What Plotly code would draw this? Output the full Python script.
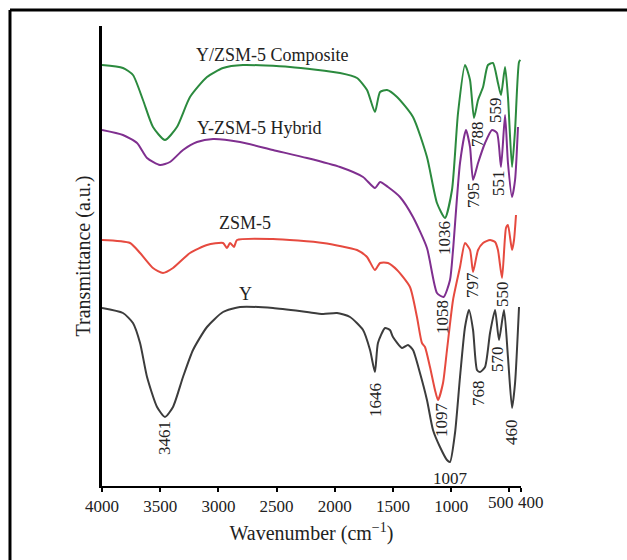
import plotly.graph_objects as go

# Wavenumber (cm-1) and transmittance (a.u.)
wn_comp = [4000, 3820, 3734, 3648, 3562, 3459, 3356, 3244, 3098, 2960, 2789, 2385, 1955, 1809, 1723,
           1655, 1611, 1551, 1465, 1328, 1208, 1122, 1053, 993, 941, 881, 838, 804, 769, 726, 684,
           641, 598, 572, 537, 512, 477, 451, 417, 405]
t_comp = [421, 418, 411, 386, 359, 346, 359, 389, 409, 418, 421, 419, 413, 408, 396,
          374, 394, 396, 389, 369, 329, 283, 268, 296, 373, 421, 406, 368, 386, 399, 421,
          423, 403, 391, 419, 389, 319, 356, 424, 426]

wn_hyb = [4000, 3820, 3699, 3613, 3502, 3416, 3304, 3184, 3046, 2814, 2531, 2239, 1955, 1757, 1655,
          1611, 1543, 1440, 1328, 1208, 1122, 1065, 1010, 984, 924, 873, 838, 812, 769, 709, 649,
          606, 572, 537, 512, 477, 451, 426]
t_hyb = [356, 351, 343, 328, 321, 324, 336, 344, 347, 344, 336, 328, 319, 309, 298,
         304, 299, 289, 269, 238, 193, 189, 206, 236, 323, 356, 339, 306, 323, 343, 356,
         353, 319, 371, 323, 289, 306, 359]

wn_zsm = [4000, 3759, 3673, 3562, 3476, 3390, 3244, 3098, 2960, 2926, 2900, 2866, 2840, 2531, 2101,
          1809, 1723, 1655, 1611, 1543, 1465, 1354, 1294, 1251, 1225, 1182, 1139, 1113, 1070, 1036,
          984, 924, 881, 838, 812, 769, 726, 666, 623, 598, 563, 529, 512, 477, 460, 443]
t_zsm = [246, 243, 233, 218, 213, 218, 233, 241, 243, 238, 243, 239, 246, 247, 243,
         236, 229, 216, 223, 223, 216, 199, 169, 143, 139, 119, 96, 86, 103, 136,
         186, 219, 243, 236, 214, 236, 243, 246, 244, 236, 208, 258, 261, 236, 246, 271]

wn_y = [4000, 3820, 3734, 3673, 3613, 3527, 3459, 3390, 3304, 3218, 3098, 2960, 2814, 2531, 2239,
        2101, 1981, 1869, 1757, 1697, 1655, 1629, 1568, 1526, 1500, 1422, 1371, 1328, 1268, 1208,
        1156, 1096, 1036, 1010, 967, 924, 881, 847, 812, 778, 752, 709, 666, 623, 589, 546, 512,
        477, 451, 417]
t_y = [178, 173, 163, 143, 109, 79, 69, 79, 109, 136, 159, 174, 179, 178, 174,
       172, 173, 169, 156, 136, 114, 143, 158, 156, 149, 138, 141, 136, 113, 86,
       56, 39, 26, 24, 53, 109, 159, 176, 156, 116, 114, 119, 153, 176, 146, 176, 129,
       78, 103, 179]

series_names = ["Y/ZSM-5 Composite", "Y-ZSM-5 Hybrid", "ZSM-5", "Y"]
series_colors = ["#2b8a3e", "#7f2f8f", "#e64a3f", "#3c3c3c"]

x_ticks = [4000, 3500, 3000, 2500, 2000, 1500, 1000]
x_ticklabels = ["4000", "3500", "3000", "2500", "2000", "1500", "1000"]
x_ticks_close = [500, 400]
x_ticklabels_close = ["500", "400"]

FONT = "Liberation Serif, Times New Roman, serif"
TXT = "#222222"

fig = go.Figure()
for name, xs, ys, col in zip(series_names,
                             [wn_comp, wn_hyb, wn_zsm, wn_y],
                             [t_comp, t_hyb, t_zsm, t_y],
                             series_colors):
    fig.add_trace(go.Scatter(x=xs, y=ys, mode="lines", name=name,
                             line=dict(color=col, width=2, shape="spline", smoothing=0.6),
                             showlegend=False))

# Series labels (text, x, y)
series_labels = [("Y/ZSM-5 Composite", 2539, 431), ("Y-ZSM-5 Hybrid", 2651, 358),
                 ("ZSM-5", 2771, 263), ("Y", 2771, 192)]
for txt, x, y in series_labels:
    fig.add_annotation(x=x, y=y, text=txt, showarrow=False,
                       font=dict(family=FONT, size=18, color=TXT))

# Peak labels (rotated)
peak_labels = [("1036", 1062, 248), ("788", 778, 352), ("559", 623, 376), ("795", 812, 291),
               ("551", 598, 303), ("797", 821, 201), ("550", 563, 192), ("1058", 1079, 169),
               ("768", 769, 93), ("570", 606, 127), ("1097", 1087, 66), ("460", 486, 54),
               ("1646", 1654, 86), ("3461", 3467, 48)]
for txt, x, y in peak_labels:
    fig.add_annotation(x=x, y=y, text=txt, showarrow=False, textangle=-90,
                       font=dict(family=FONT, size=17, color=TXT))
fig.add_annotation(x=1010, y=8, text="1007", showarrow=False,
                   font=dict(family=FONT, size=17, color=TXT))

# The last two tick labels sit side by side, slightly pushed apart
for txt, xp in zip(x_ticklabels_close, [0.952, 1.024]):
    fig.add_annotation(xref="paper", yref="paper", x=xp, y=-0.035, text=txt,
                       showarrow=False, xanchor="center", yanchor="middle",
                       font=dict(family=FONT, size=17, color=TXT))

# Outer frame (top and left edges visible)
fig.add_shape(type="line", xref="paper", yref="paper", x0=-0.2196, x1=1.3, y0=1.0348, y1=1.0348,
              line=dict(color="black", width=3))
fig.add_shape(type="line", xref="paper", yref="paper", x0=-0.2196, x1=-0.2196, y0=-0.2, y1=1.0348,
              line=dict(color="black", width=3))

fig.update_layout(
    width=627, height=560,
    margin=dict(l=102, r=106, t=26, b=74),
    paper_bgcolor="white", plot_bgcolor="white",
    font=dict(family=FONT, size=17, color=TXT),
    xaxis=dict(range=[4000, 400], tickvals=x_ticks, ticktext=x_ticklabels, tickangle=0,
               showgrid=False, zeroline=False, showline=True, linecolor="black", linewidth=2,
               ticks="outside", ticklen=4, tickcolor="black", tickwidth=1.5,
               minor=dict(tickvals=x_ticks_close, ticks="outside", ticklen=4,
                          tickcolor="black", tickwidth=1.5, showgrid=False),
               tickfont=dict(family=FONT, size=17, color=TXT),
               title=dict(text="Wavenumber (cm<sup>−1</sup>)", standoff=11,
                          font=dict(family=FONT, size=20, color=TXT))),
    yaxis=dict(range=[0, 460], showgrid=False, zeroline=False, showline=True, linecolor="black",
               linewidth=3, showticklabels=False, ticks="",
               title=dict(text="Transmittance (a.u.)", standoff=4,
                          font=dict(family=FONT, size=20, color=TXT))),
)

fig.write_html("out.html")
